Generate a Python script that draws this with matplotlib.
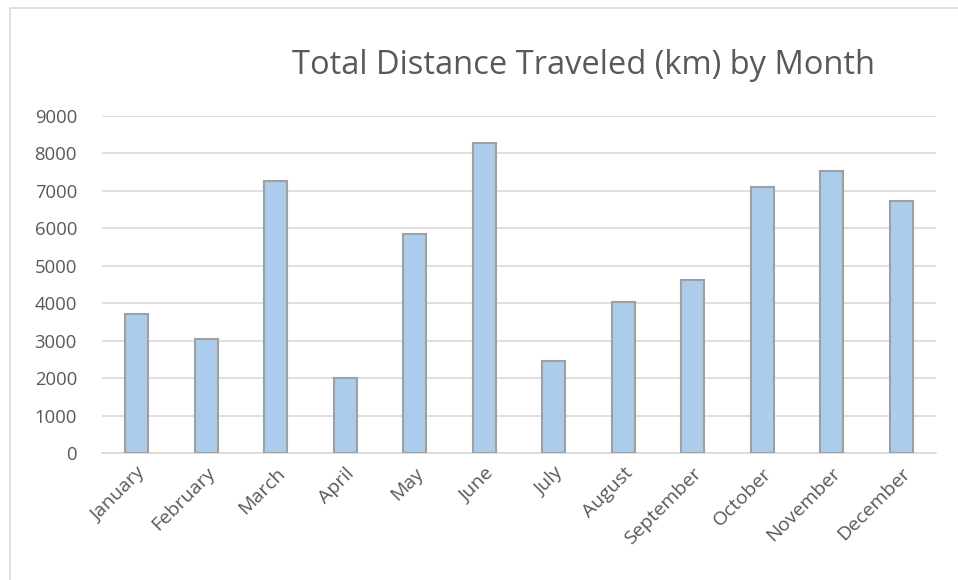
import matplotlib.pyplot as plt
from matplotlib.patches import Rectangle

months = ["January", "February", "March", "April", "May", "June",
          "July", "August", "September", "October", "November", "December"]
distance_km = [3720, 3040, 7270, 1990, 5840, 8270,
               2460, 4030, 4610, 7110, 7520, 6740]
y_ticks = [0, 1000, 2000, 3000, 4000, 5000, 6000, 7000, 8000, 9000]

plt.rcParams["font.family"] = ["Open Sans", "DejaVu Sans"]
text_col = "#595959"

fig = plt.figure(figsize=(9.58, 5.8), dpi=100)
ax = fig.add_axes([102 / 958, 1 - 453 / 580, 834 / 958, 337 / 580])

# light frame around the chart area
fig.patches.append(Rectangle((10 / 958, -0.1), 1.0, 1 - 8 / 580 + 0.1,
                             transform=fig.transFigure, fill=False,
                             edgecolor="#D9D9D9", linewidth=1.2))

x = range(len(months))
ax.bar(x, distance_km, width=0.33, color="#ABCDEB",
       edgecolor="#A0A0A0", linewidth=1.5, zorder=3)

ax.set_xlim(-0.5, len(months) - 0.5)
ax.set_ylim(0, 9000)
ax.set_yticks(y_ticks)
ax.set_yticklabels([str(v) for v in y_ticks])
ax.yaxis.grid(True, color="#D9D9D9", linewidth=1.2, zorder=0)
ax.set_axisbelow(True)

for s in ["top", "right", "left"]:
    ax.spines[s].set_visible(False)
ax.spines["bottom"].set_color("#D9D9D9")
ax.spines["bottom"].set_linewidth(1.2)

ax.tick_params(axis="both", length=0, colors=text_col)
ax.tick_params(axis="y", pad=18, labelsize=13.3)
ax.set_xticks(list(x))
ax.set_xticklabels(months, rotation=45, ha="right", rotation_mode="anchor")
ax.tick_params(axis="x", pad=8, labelsize=14)

fig.text(584 / 958, 1 - 65 / 580, "Total Distance Traveled (km) by Month",
         ha="center", va="center", fontsize=23.5, color=text_col)

fig.savefig("out.png", dpi=100, facecolor="white")
